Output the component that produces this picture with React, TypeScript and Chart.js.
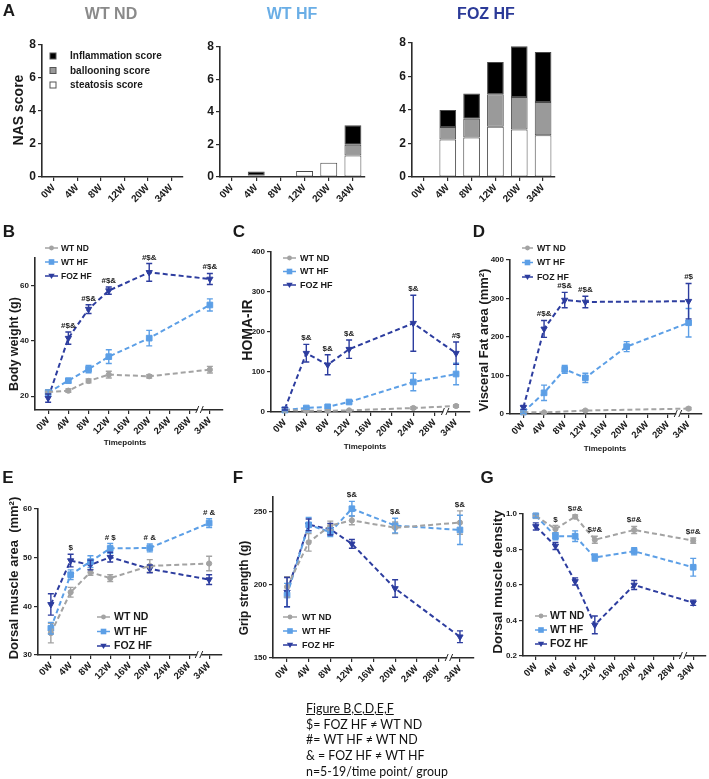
import React, { useEffect, useRef } from 'react';
import { Chart, registerables } from 'chart.js';
Chart.register(...registerables);

const FONT = "'Liberation Sans', Arial, Helvetica, sans-serif";
const AXIS = '#2b2b2b';
const TXT = '#1a1a1a';
const C_ND = '#a3a3a3';
const C_HF = '#5c9fe6';
const C_FOZ = '#2d3d9f';

// ---------- categories / labels
const NAS_LABELS = ['0W', '4W', '8W', '12W', '20W', '34W'];
const TIME_LABELS = ['0W', '4W', '8W', '12W', '16W', '20W', '24W', '28W', '34W'];
const SERIES_NAMES = ['WT ND', 'WT HF', 'FOZ HF'];
const NAS_NAMES = ['Inflammation score', 'ballooning score', 'steatosis score'];
const NAS_TICKS = [0, 2, 4, 6, 8];

// ---------- A: NAS score (stacked)
const ND_STEATOSIS = [null, null, null, null, null, null];
const ND_BALLOONING = [null, null, null, null, null, null];
const ND_INFLAMMATION = [null, null, null, null, null, null];
const HF_STEATOSIS = [null, 0.1, null, 0.37, 0.87, 1.33];
const HF_BALLOONING = [null, null, null, null, null, 0.65];
const HF_INFLAMMATION = [null, 0.24, null, null, null, 1.21];
const FOZ_STEATOSIS = [null, 2.24, 2.36, 3.0, 2.84, 2.5];
const FOZ_BALLOONING = [null, 0.74, 1.12, 1.94, 1.94, 1.98];
const FOZ_INFLAMMATION = [null, 1.02, 1.5, 1.92, 3.02, 2.98];

// ---------- B: Body weight (g)
const BW_TICKS = [20, 40, 60];
const BW_ND = [21.5, 22, 25.5, 27.8, null, 27.2, null, null, 29.6];
const BW_ND_ERR = [0.8, 0.6, 0.7, 1.2, null, 0.6, null, null, 1.2];
const BW_HF = [21.3, 25.6, 29.8, 34.3, null, 41, null, null, 53];
const BW_HF_ERR = [1, 0.8, 1.3, 2.5, null, 2.8, null, null, 2.2];
const BW_FOZ = [19.3, 41, 51.5, 58.2, null, 64.8, null, null, 62.4];
const BW_FOZ_ERR = [1.5, 2.2, 1.6, 1.3, null, 3.2, null, null, 2];
const BW_SIG = ['', '#$&', '#$&', '#$&', '', '#$&', '', '', '#$&'];

// ---------- C: HOMA-IR
const HOMA_TICKS = [0, 100, 200, 300, 400];
const HOMA_ND = [5, 3, 3, 4, null, null, 10, null, 15];
const HOMA_ND_ERR = [2, 1, 1, 1, null, null, 3, null, 3];
const HOMA_HF = [5, 10, 13, 25, null, null, 75, null, 95];
const HOMA_HF_ERR = [2, 3, 4, 4, null, null, 22, null, 27];
const HOMA_FOZ = [8, 147, 118, 157, null, null, 222, null, 147];
const HOMA_FOZ_ERR = [3, 22, 25, 23, null, null, 70, null, 28];
const HOMA_SIG = ['', '$&', '$&', '$&', '', '', '$&', '', '#$'];

// ---------- D: Visceral fat area (mm²)
const VF_TICKS = [0, 100, 200, 300, 400];
const VF_ND = [5, 4, null, 9, null, null, null, null, 14];
const VF_ND_ERR = [2, 1, null, 2, null, null, null, null, 3];
const VF_HF = [5, 55, 116, 94, null, 175, null, null, 237];
const VF_HF_ERR = [3, 20, 10, 12, null, 13, null, null, 37];
const VF_FOZ = [17, 221, 296, 291, null, null, null, null, 293];
const VF_FOZ_ERR = [5, 22, 20, 15, null, null, null, null, 46];
const VF_SIG = ['', '#$&', '#$&', '#$&', '', '', '', '', '#$'];

// ---------- E: Dorsal muscle area (mm²)
const DMA_TICKS = [30, 40, 50, 60];
const DMA_ND = [34.5, 42.9, 47.0, 45.8, null, 48.3, null, null, 48.8];
const DMA_ND_ERR = [2, 1, 0.6, 0.7, null, 1.3, null, null, 1.5];
const DMA_HF = [35.5, 46.5, 49.2, 51.9, null, 52, null, null, 57.1];
const DMA_HF_ERR = [1.2, 1, 1.2, 1, null, 0.8, null, null, 0.9];
const DMA_FOZ = [40.4, 49.4, 48.5, 50.1, null, 47.7, null, null, 45.5];
const DMA_FOZ_ERR = [2.2, 1.3, 1, 1, null, 0.8, null, null, 1];
const DMA_SIG = ['', '$', '', '# $', '', '# &', '', '', '# &'];

// ---------- F: Grip strength (g)
const GRIP_TICKS = [150, 200, 250];
const GRIP_ND = [198.6, 229, 240.5, 244, null, 239, null, null, 242.5];
const GRIP_ND_ERR = [7, 6, 3, 3, null, 4, null, null, 8];
const GRIP_HF = [193, 241, 236, 252, null, 240.5, null, null, 237.5];
const GRIP_HF_ERR = [8, 5, 3, 5, null, 5, null, null, 10];
const GRIP_FOZ = [195, 241, 238, 228, null, 197.5, null, null, 164.5];
const GRIP_FOZ_ERR = [10, 4, 4, 3, null, 6, null, null, 4];
const GRIP_SIG = ['', '', '', '$&', '', '$&', '', '', '$&'];

// ---------- G: Dorsal muscle density
const DMD_TICKS = [0.2, 0.4, 0.6, 0.8, 1.0];
const DMD_ND = [0.99, 0.915, 0.985, 0.855, null, 0.91, null, null, 0.85];
const DMD_ND_ERR = [0.01, 0.02, 0.01, 0.02, null, 0.02, null, null, 0.015];
const DMD_HF = [0.99, 0.875, 0.875, 0.755, null, 0.79, null, null, 0.7];
const DMD_HF_ERR = [0.01, 0.02, 0.03, 0.02, null, 0.02, null, null, 0.05];
const DMD_FOZ = [0.93, 0.82, 0.62, 0.375, null, 0.6, null, null, 0.5];
const DMD_FOZ_ERR = [0.02, 0.02, 0.02, 0.05, null, 0.025, null, null, 0.015];
const DMD_SIG = ['', '$', '$#&', '$#&', '', '$#&', '', '', '$#&'];

// ---------- layout constants
const YW = 34;
const PADT = 30;
const PADR = 12;
const XH = 45;

type Area = { l: number; t: number; r: number; b: number };
type LegendItem = { label: string; color: string; marker: string; fill?: string };
type LegendCfg = { x: number; y: number; rowH: number; size: number; lineLen: number; gap: number; items: LegendItem[] };

function drawMarker(ctx: CanvasRenderingContext2D, kind: string, x: number, y: number, color: string) {
  ctx.fillStyle = color;
  ctx.beginPath();
  if (kind === 'circle') {
    ctx.arc(x, y, 2.4, 0, Math.PI * 2);
    ctx.fill();
  } else if (kind === 'rect') {
    ctx.fillRect(x - 2.8, y - 2.8, 5.6, 5.6);
  } else if (kind === 'triangle') {
    ctx.moveTo(x - 3.2, y - 2.2);
    ctx.lineTo(x + 3.2, y - 2.2);
    ctx.lineTo(x, y + 3);
    ctx.closePath();
    ctx.fill();
  }
}

function makeOverlay(o: { sig?: string[]; sigSize?: number; legend?: LegendCfg; brk?: boolean; ox: number; oy: number }) {
  return {
    id: 'overlay',
    afterDraw(chart: any) {
      const ctx: CanvasRenderingContext2D = chart.ctx;
      const xs = chart.scales.x;
      const ys = chart.scales.y;
      if (chart.config.type === 'line') {
        chart.data.datasets.forEach((ds: any) => {
          const vals = ds.values as (number | null)[];
          const errs = ds.errors as (number | null)[];
          ctx.save();
          ctx.strokeStyle = ds.borderColor;
          ctx.lineWidth = 1.4;
          ctx.setLineDash([]);
          vals.forEach((v, i) => {
            if (v == null || errs[i] == null) return;
            const x = xs.getPixelForValue(i);
            const y1 = ys.getPixelForValue(v + (errs[i] as number));
            const y2 = ys.getPixelForValue(v - (errs[i] as number));
            ctx.beginPath();
            ctx.moveTo(x, y1); ctx.lineTo(x, y2);
            ctx.moveTo(x - 3, y1); ctx.lineTo(x + 3, y1);
            ctx.moveTo(x - 3, y2); ctx.lineTo(x + 3, y2);
            ctx.stroke();
          });
          ctx.restore();
        });
        if (o.sig) {
          ctx.save();
          ctx.font = `bold ${o.sigSize || 8}px ${FONT}`;
          ctx.fillStyle = TXT;
          ctx.textAlign = 'center';
          ctx.textBaseline = 'alphabetic';
          o.sig.forEach((s, i) => {
            if (!s) return;
            let top = Infinity;
            chart.data.datasets.forEach((ds: any) => {
              const v = ds.values[i];
              if (v == null) return;
              const e = ds.errors[i] || 0;
              top = Math.min(top, ys.getPixelForValue(v + e));
            });
            if (top === Infinity) return;
            ctx.fillText(s, xs.getPixelForValue(i), top - 4);
          });
          ctx.restore();
        }
      }
      if (o.brk) {
        const x = (xs.getPixelForValue(7) + xs.getPixelForValue(8)) / 2;
        const y = xs.top;
        ctx.save();
        ctx.fillStyle = '#fff';
        ctx.fillRect(x - 2, y - 2, 4, 4);
        ctx.strokeStyle = AXIS;
        ctx.lineWidth = 1;
        ctx.beginPath();
        ctx.moveTo(x - 4, y + 3); ctx.lineTo(x - 1, y - 4);
        ctx.moveTo(x + 0.5, y + 3); ctx.lineTo(x + 3.5, y - 4);
        ctx.stroke();
        ctx.restore();
      }
      if (o.legend) {
        const L = o.legend;
        ctx.save();
        ctx.font = `bold ${L.size}px ${FONT}`;
        ctx.textBaseline = 'middle';
        ctx.textAlign = 'left';
        L.items.forEach((it, k) => {
          const x0 = L.x - o.ox;
          const y = L.y - o.oy + k * L.rowH;
          if (it.marker === 'box') {
            ctx.fillStyle = it.fill || '#000';
            ctx.fillRect(x0 - 3, y - 3, 6, 6);
            ctx.strokeStyle = '#555';
            ctx.lineWidth = 1;
            ctx.strokeRect(x0 - 3, y - 3, 6, 6);
          } else {
            ctx.strokeStyle = it.color;
            ctx.lineWidth = 1.5;
            ctx.setLineDash([]);
            ctx.beginPath();
            ctx.moveTo(x0, y); ctx.lineTo(x0 + L.lineLen, y);
            ctx.stroke();
            drawMarker(ctx, it.marker, x0 + L.lineLen / 2, y, it.color);
          }
          ctx.fillStyle = TXT;
          ctx.fillText(it.label, x0 + L.lineLen + L.gap, y + 0.5);
        });
        ctx.restore();
      }
    },
  };
}

function axisCommon(fontSize: number) {
  return {
    grid: { display: true, drawOnChartArea: false, drawTicks: true, tickLength: 4, color: AXIS, lineWidth: 1.2 },
    border: { display: true, color: AXIS, width: 1.6 },
    ticks: { color: TXT, font: { family: FONT, size: fontSize, weight: 'bold' as const } },
  };
}

type LinePanel = {
  area: Area;
  yMin: number; yMax: number; yTicks: number[]; dec: number;
  nd: (number | null)[]; ndErr: (number | null)[];
  hf: (number | null)[]; hfErr: (number | null)[];
  foz: (number | null)[]; fozErr: (number | null)[];
  sig: string[];
  legend: { x: number; y: number; rowH: number; size: number; lineLen: number; gap: number };
};

function canvasBox(a: Area) {
  return { left: a.l - YW, top: a.t - PADT, width: a.r - a.l + YW + PADR, height: a.b - a.t + PADT + XH };
}

function lineConfig(p: LinePanel): any {
  const box = canvasBox(p.area);
  const sets = [
    { name: SERIES_NAMES[0], values: p.nd, errors: p.ndErr, color: C_ND, style: 'circle', r: 2.6, rot: 0 },
    { name: SERIES_NAMES[1], values: p.hf, errors: p.hfErr, color: C_HF, style: 'rect', r: 4, rot: 0 },
    { name: SERIES_NAMES[2], values: p.foz, errors: p.fozErr, color: C_FOZ, style: 'triangle', r: 3.6, rot: 180 },
  ];
  const ax = axisCommon(8);
  return {
    type: 'line',
    data: {
      datasets: sets.map((s) => ({
        label: s.name,
        values: s.values,
        errors: s.errors,
        data: s.values.map((v, i) => (v == null ? null : { x: i, y: v })).filter((d) => d !== null),
        borderColor: s.color,
        backgroundColor: s.color,
        borderWidth: 2,
        borderDash: [5, 3],
        pointStyle: s.style,
        pointRadius: s.r,
        pointRotation: s.rot,
        pointBackgroundColor: s.color,
        pointBorderColor: s.color,
        pointBorderWidth: 1,
        fill: false,
        tension: 0,
        clip: false,
      })),
    },
    options: {
      responsive: false,
      animation: false,
      devicePixelRatio: 1,
      events: [],
      layout: { padding: { top: PADT, right: PADR, left: 0, bottom: 0 }, autoPadding: false },
      plugins: { legend: { display: false }, tooltip: { enabled: false }, title: { display: false } },
      scales: {
        x: {
          type: 'linear',
          min: -0.65,
          max: 8.65,
          afterBuildTicks: (s: any) => { s.ticks = TIME_LABELS.map((_, i) => ({ value: i })); },
          afterFit: (s: any) => { s.height = XH; },
          grid: ax.grid,
          border: ax.border,
          ticks: {
            ...ax.ticks,
            font: { family: FONT, size: 9.5, weight: 'bold' },
            autoSkip: false,
            maxRotation: 45,
            minRotation: 45,
            padding: 1,
            callback: (_v: any, i: number) => TIME_LABELS[i],
          },
        },
        y: {
          type: 'linear',
          min: p.yMin,
          max: p.yMax,
          afterBuildTicks: (s: any) => { s.ticks = p.yTicks.map((v) => ({ value: v })); },
          afterFit: (s: any) => { s.width = YW; },
          grid: ax.grid,
          border: ax.border,
          ticks: { ...ax.ticks, padding: 2, callback: (v: any) => Number(v).toFixed(p.dec) },
        },
      },
    },
    plugins: [
      makeOverlay({
        sig: p.sig,
        sigSize: 8,
        brk: true,
        ox: box.left,
        oy: box.top,
        legend: {
          ...p.legend,
          items: [
            { label: SERIES_NAMES[0], color: C_ND, marker: 'circle' },
            { label: SERIES_NAMES[1], color: C_HF, marker: 'rect' },
            { label: SERIES_NAMES[2], color: C_FOZ, marker: 'triangle' },
          ],
        },
      }),
    ],
  };
}

type BarPanel = { area: Area; st: (number | null)[]; ba: (number | null)[]; inf: (number | null)[]; legend?: boolean };

function barConfig(p: BarPanel): any {
  const box = canvasBox(p.area);
  const ax = axisCommon(12);
  const mk = (label: string, data: (number | null)[], color: string) => ({
    label, data, backgroundColor: color, borderColor: '#4a4a4a', borderWidth: 1, borderSkipped: false,
    stack: 's', barPercentage: 0.7, categoryPercentage: 1,
  });
  return {
    type: 'bar',
    data: {
      labels: NAS_LABELS,
      datasets: [
        mk(NAS_NAMES[2], p.st, '#ffffff'),
        mk(NAS_NAMES[1], p.ba, '#9a9a9a'),
        mk(NAS_NAMES[0], p.inf, '#000000'),
      ],
    },
    options: {
      responsive: false,
      animation: false,
      devicePixelRatio: 1,
      events: [],
      layout: { padding: { top: PADT, right: PADR, left: 0, bottom: 0 }, autoPadding: false },
      plugins: { legend: { display: false }, tooltip: { enabled: false }, title: { display: false } },
      scales: {
        x: {
          type: 'category',
          stacked: true,
          offset: true,
          afterFit: (s: any) => { s.height = XH; },
          grid: { ...ax.grid, offset: false },
          border: ax.border,
          ticks: { ...ax.ticks, font: { family: FONT, size: 10, weight: 'bold' }, autoSkip: false, maxRotation: 45, minRotation: 45, padding: 1 },
        },
        y: {
          type: 'linear',
          stacked: true,
          min: 0,
          max: 8,
          afterBuildTicks: (s: any) => { s.ticks = NAS_TICKS.map((v) => ({ value: v })); },
          afterFit: (s: any) => { s.width = YW; },
          grid: ax.grid,
          border: ax.border,
          ticks: { ...ax.ticks, padding: 2 },
        },
      },
    },
    plugins: [
      makeOverlay({
        ox: box.left,
        oy: box.top,
        legend: p.legend
          ? {
              x: 53, y: 56, rowH: 14.5, size: 10, lineLen: 0, gap: 17,
              items: [
                { label: NAS_NAMES[0], color: '#000', marker: 'box', fill: '#000' },
                { label: NAS_NAMES[1], color: '#999', marker: 'box', fill: '#9a9a9a' },
                { label: NAS_NAMES[2], color: '#fff', marker: 'box', fill: '#fff' },
              ],
            }
          : undefined,
      }),
    ],
  };
}

function ChartBox({ area, make }: { area: Area; make: () => any }) {
  const ref = useRef<HTMLCanvasElement>(null);
  const box = canvasBox(area);
  useEffect(() => {
    const chart = new Chart(ref.current as HTMLCanvasElement, make());
    return () => chart.destroy();
  }, []);
  return (
    <canvas
      ref={ref}
      width={box.width}
      height={box.height}
      style={{ position: 'absolute', left: box.left, top: box.top, width: box.width, height: box.height }}
    />
  );
}

function T({ x, y, size, color = TXT, rot = false, bold = true, children }: any) {
  return (
    <div
      style={{
        position: 'absolute', left: x, top: y,
        transform: `translate(-50%, -50%)${rot ? ' rotate(-90deg)' : ''}`,
        fontSize: size, fontWeight: bold ? 700 : 400, color, fontFamily: FONT,
        whiteSpace: 'nowrap', lineHeight: 1,
      }}
    >
      {children}
    </div>
  );
}

const A1: BarPanel = { area: { l: 42, t: 45, r: 183, b: 177 }, st: ND_STEATOSIS, ba: ND_BALLOONING, inf: ND_INFLAMMATION, legend: true };
const A2: BarPanel = { area: { l: 220, t: 47, r: 365, b: 177 }, st: HF_STEATOSIS, ba: HF_BALLOONING, inf: HF_INFLAMMATION };
const A3: BarPanel = { area: { l: 412, t: 43, r: 555, b: 177 }, st: FOZ_STEATOSIS, ba: FOZ_BALLOONING, inf: FOZ_INFLAMMATION };

const PB: LinePanel = {
  area: { l: 35, t: 258, r: 223, b: 410 }, yMin: 15, yMax: 70, yTicks: BW_TICKS, dec: 0,
  nd: BW_ND, ndErr: BW_ND_ERR, hf: BW_HF, hfErr: BW_HF_ERR, foz: BW_FOZ, fozErr: BW_FOZ_ERR, sig: BW_SIG,
  legend: { x: 45, y: 248, rowH: 14, size: 8.5, lineLen: 13, gap: 3 },
};
const PC: LinePanel = {
  area: { l: 271, t: 252, r: 470, b: 412 }, yMin: 0, yMax: 400, yTicks: HOMA_TICKS, dec: 0,
  nd: HOMA_ND, ndErr: HOMA_ND_ERR, hf: HOMA_HF, hfErr: HOMA_HF_ERR, foz: HOMA_FOZ, fozErr: HOMA_FOZ_ERR, sig: HOMA_SIG,
  legend: { x: 283, y: 258, rowH: 13.5, size: 9, lineLen: 13, gap: 4 },
};
const PD: LinePanel = {
  area: { l: 510, t: 260, r: 702, b: 414 }, yMin: 0, yMax: 400, yTicks: VF_TICKS, dec: 0,
  nd: VF_ND, ndErr: VF_ND_ERR, hf: VF_HF, hfErr: VF_HF_ERR, foz: VF_FOZ, fozErr: VF_FOZ_ERR, sig: VF_SIG,
  legend: { x: 522, y: 248, rowH: 14.5, size: 8.8, lineLen: 11, gap: 4 },
};
const PE: LinePanel = {
  area: { l: 38, t: 509, r: 222, b: 655 }, yMin: 30, yMax: 60, yTicks: DMA_TICKS, dec: 0,
  nd: DMA_ND, ndErr: DMA_ND_ERR, hf: DMA_HF, hfErr: DMA_HF_ERR, foz: DMA_FOZ, fozErr: DMA_FOZ_ERR, sig: DMA_SIG,
  legend: { x: 97, y: 617, rowH: 14.5, size: 10.5, lineLen: 13, gap: 4 },
};
const PF: LinePanel = {
  area: { l: 273, t: 497, r: 474, b: 658 }, yMin: 150, yMax: 260, yTicks: GRIP_TICKS, dec: 0,
  nd: GRIP_ND, ndErr: GRIP_ND_ERR, hf: GRIP_HF, hfErr: GRIP_HF_ERR, foz: GRIP_FOZ, fozErr: GRIP_FOZ_ERR, sig: GRIP_SIG,
  legend: { x: 283, y: 617, rowH: 14, size: 9, lineLen: 14, gap: 5 },
};
const PG: LinePanel = {
  area: { l: 523, t: 514, r: 706, b: 656 }, yMin: 0.2, yMax: 1.0, yTicks: DMD_TICKS, dec: 1,
  nd: DMD_ND, ndErr: DMD_ND_ERR, hf: DMD_HF, hfErr: DMD_HF_ERR, foz: DMD_FOZ, fozErr: DMD_FOZ_ERR, sig: DMD_SIG,
  legend: { x: 535, y: 616, rowH: 14, size: 10.5, lineLen: 12, gap: 3 },
};

const FOOT = [
  'Figure B,C,D,E,F',
  '$= FOZ HF \u2260 WT ND',
  '#= WT HF \u2260 WT ND',
  '& = FOZ HF \u2260 WT HF',
  'n=5-19/time point/ group',
];

export default function App() {
  return (
    <div style={{ position: 'absolute', left: 0, top: 0, width: 709, height: 779, background: '#fff', overflow: 'hidden' }}>
      <ChartBox area={A1.area} make={() => barConfig(A1)} />
      <ChartBox area={A2.area} make={() => barConfig(A2)} />
      <ChartBox area={A3.area} make={() => barConfig(A3)} />
      <ChartBox area={PB.area} make={() => lineConfig(PB)} />
      <ChartBox area={PC.area} make={() => lineConfig(PC)} />
      <ChartBox area={PD.area} make={() => lineConfig(PD)} />
      <ChartBox area={PE.area} make={() => lineConfig(PE)} />
      <ChartBox area={PF.area} make={() => lineConfig(PF)} />
      <ChartBox area={PG.area} make={() => lineConfig(PG)} />

      <T x={9} y={10} size={17}>A</T>
      <T x={9} y={231} size={17}>B</T>
      <T x={239} y={231} size={17}>C</T>
      <T x={479} y={231} size={17}>D</T>
      <T x={8} y={477} size={17}>E</T>
      <T x={238} y={477} size={17}>F</T>
      <T x={487} y={477} size={17}>G</T>

      <T x={111} y={14} size={16} color="#8a8a8a">WT ND</T>
      <T x={292} y={14} size={16} color="#6aaee6">WT HF</T>
      <T x={486} y={14} size={16} color="#2b3a98">FOZ HF</T>

      <T x={18} y={110} size={14} rot>NAS score</T>
      <T x={14} y={344} size={12.5} rot>Body weight (g)</T>
      <T x={247} y={330} size={14} rot>HOMA-IR</T>
      <T x={483} y={340} size={13} rot>Visceral Fat area (mm²)</T>
      <T x={13} y={578} size={13} rot>Dorsal muscle area&nbsp;&nbsp;(mm²)</T>
      <T x={244} y={588} size={12} rot>Grip strength (g)</T>
      <T x={498} y={582} size={13.5} rot>Dorsal muscle density</T>

      <T x={125} y={443} size={8}>Timepoints</T>
      <T x={365} y={447} size={8}>Timepoints</T>
      <T x={605} y={449} size={8}>Timepoints</T>

      <div style={{ position: 'absolute', left: 306, top: 701, fontFamily: "Lato, 'Open Sans', sans-serif", fontSize: 12.4, lineHeight: '15.7px', color: '#111' }}>
        {FOOT.map((s, i) => (
          <div key={i} style={{ textDecoration: i === 0 ? 'underline' : 'none', whiteSpace: 'nowrap' }}>{s}</div>
        ))}
      </div>
    </div>
  );
}
